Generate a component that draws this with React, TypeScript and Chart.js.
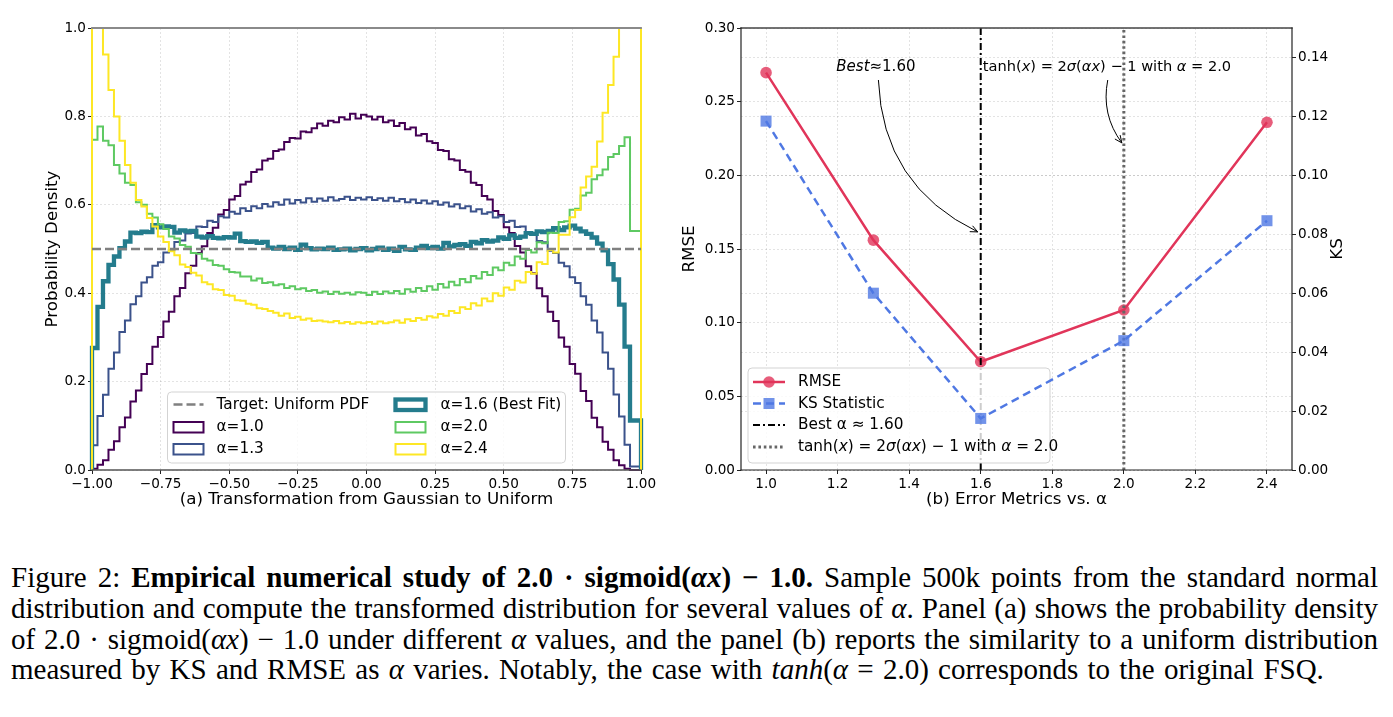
import React, { useEffect, useRef } from 'react';
import { Chart, registerables } from 'chart.js';

Chart.register(...registerables);

const FONT_FAMILY = '"DejaVu Sans", "Noto Sans", sans-serif';

// ---------------- Panel (a): histogram densities (100 bins over [-1, 1]) ----------------
const BIN_RANGE = [-1, 1];
const X_TICKS_A = [-1, -0.75, -0.5, -0.25, 0, 0.25, 0.5, 0.75, 1];
const Y_TICKS_A = [0, 0.2, 0.4, 0.6, 0.8, 1.0];
const Y_RANGE_A = [0, 1];
const TARGET_PDF = 0.5;

const HIST_ALPHA_1_0 = [
  0.000, 0.003, 0.012, 0.022, 0.046, 0.065, 0.097, 0.119, 0.155, 0.180,
  0.217, 0.240, 0.279, 0.301, 0.336, 0.358, 0.393, 0.412, 0.445, 0.462,
  0.491, 0.506, 0.536, 0.548, 0.578, 0.588, 0.612, 0.620, 0.646, 0.652,
  0.674, 0.680, 0.700, 0.704, 0.722, 0.725, 0.742, 0.751, 0.750, 0.766,
  0.764, 0.773, 0.784, 0.779, 0.790, 0.787, 0.798, 0.793, 0.806, 0.795,
  0.804, 0.800, 0.793, 0.799, 0.787, 0.791, 0.778, 0.785, 0.771, 0.775,
  0.757, 0.760, 0.744, 0.740, 0.724, 0.722, 0.703, 0.700, 0.679, 0.675,
  0.650, 0.645, 0.620, 0.612, 0.586, 0.577, 0.549, 0.536, 0.507, 0.492,
  0.461, 0.445, 0.411, 0.393, 0.358, 0.337, 0.300, 0.279, 0.240, 0.218,
  0.179, 0.156, 0.118, 0.097, 0.064, 0.046, 0.022, 0.011, 0.003, 0.000,
];
const HIST_ALPHA_1_3 = [
  0.009, 0.056, 0.122, 0.170, 0.229, 0.266, 0.312, 0.338, 0.375, 0.393,
  0.424, 0.436, 0.462, 0.470, 0.492, 0.497, 0.516, 0.519, 0.535, 0.536,
  0.551, 0.550, 0.564, 0.561, 0.574, 0.571, 0.584, 0.580, 0.592, 0.586,
  0.597, 0.592, 0.602, 0.596, 0.606, 0.600, 0.612, 0.603, 0.611, 0.605,
  0.615, 0.607, 0.614, 0.609, 0.617, 0.610, 0.613, 0.618, 0.611, 0.616,
  0.612, 0.617, 0.611, 0.615, 0.609, 0.616, 0.608, 0.613, 0.606, 0.612,
  0.604, 0.610, 0.603, 0.608, 0.600, 0.605, 0.596, 0.601, 0.592, 0.597,
  0.585, 0.590, 0.580, 0.583, 0.571, 0.574, 0.561, 0.564, 0.550, 0.551,
  0.535, 0.535, 0.518, 0.515, 0.496, 0.491, 0.469, 0.461, 0.436, 0.423,
  0.393, 0.374, 0.338, 0.311, 0.266, 0.229, 0.171, 0.121, 0.057, 0.008,
];
const HIST_ALPHA_1_6 = [
  0.106, 0.276, 0.369, 0.427, 0.464, 0.483, 0.502, 0.517, 0.537, 0.536,
  0.539, 0.538, 0.554, 0.549, 0.551, 0.550, 0.537, 0.542, 0.540, 0.541,
  0.528, 0.526, 0.529, 0.525, 0.524, 0.527, 0.526, 0.535, 0.518, 0.516,
  0.517, 0.514, 0.516, 0.503, 0.501, 0.505, 0.500, 0.503, 0.498, 0.510,
  0.502, 0.499, 0.501, 0.500, 0.503, 0.498, 0.499, 0.501, 0.497, 0.500,
  0.502, 0.497, 0.500, 0.503, 0.498, 0.501, 0.496, 0.505, 0.499, 0.498,
  0.503, 0.507, 0.502, 0.505, 0.501, 0.514, 0.506, 0.509, 0.511, 0.507,
  0.516, 0.513, 0.520, 0.517, 0.519, 0.526, 0.523, 0.531, 0.525, 0.528,
  0.536, 0.534, 0.540, 0.538, 0.541, 0.547, 0.543, 0.549, 0.553, 0.546,
  0.540, 0.534, 0.526, 0.512, 0.497, 0.466, 0.431, 0.374, 0.279, 0.112,
];
const HIST_ALPHA_2_0 = [
  0.540, 0.747, 0.777, 0.745, 0.735, 0.690, 0.671, 0.650, 0.645, 0.606,
  0.600, 0.580, 0.571, 0.556, 0.545, 0.528, 0.524, 0.509, 0.505, 0.491,
  0.489, 0.478, 0.474, 0.464, 0.462, 0.454, 0.448, 0.447, 0.438, 0.438,
  0.429, 0.433, 0.423, 0.425, 0.418, 0.420, 0.412, 0.416, 0.409, 0.411,
  0.405, 0.407, 0.401, 0.404, 0.398, 0.403, 0.399, 0.401, 0.397, 0.402,
  0.401, 0.396, 0.403, 0.398, 0.404, 0.400, 0.405, 0.399, 0.409, 0.403,
  0.412, 0.405, 0.416, 0.408, 0.421, 0.413, 0.426, 0.418, 0.432, 0.425,
  0.439, 0.433, 0.448, 0.441, 0.458, 0.452, 0.469, 0.463, 0.483, 0.478,
  0.498, 0.492, 0.515, 0.513, 0.537, 0.536, 0.561, 0.563, 0.589, 0.591,
  0.621, 0.627, 0.658, 0.667, 0.680, 0.708, 0.715, 0.733, 0.753, 0.541,
];
const HIST_ALPHA_2_4 = [
  1.470, 1.228, 1.061, 0.940, 0.860, 0.800, 0.745, 0.690, 0.650, 0.611,
  0.596, 0.570, 0.551, 0.528, 0.516, 0.495, 0.486, 0.465, 0.459, 0.446,
  0.440, 0.425, 0.420, 0.409, 0.407, 0.396, 0.394, 0.384, 0.383, 0.376,
  0.374, 0.366, 0.364, 0.360, 0.356, 0.349, 0.354, 0.344, 0.347, 0.340,
  0.343, 0.337, 0.338, 0.336, 0.334, 0.337, 0.332, 0.335, 0.331, 0.334,
  0.332, 0.335, 0.331, 0.336, 0.332, 0.334, 0.338, 0.333, 0.341, 0.337,
  0.344, 0.340, 0.348, 0.345, 0.353, 0.349, 0.360, 0.355, 0.368, 0.364,
  0.377, 0.372, 0.388, 0.382, 0.400, 0.394, 0.413, 0.408, 0.428, 0.424,
  0.448, 0.444, 0.470, 0.466, 0.498, 0.492, 0.532, 0.532, 0.572, 0.588,
  0.639, 0.664, 0.686, 0.743, 0.808, 0.871, 0.935, 1.070, 1.236, 1.461,
];

const SERIES_A = [
  { label: 'α=1.0', values: HIST_ALPHA_1_0, color: '#440154', width: 2 },
  { label: 'α=1.3', values: HIST_ALPHA_1_3, color: '#3b528b', width: 2 },
  { label: 'α=1.6 (Best Fit)', values: HIST_ALPHA_1_6, color: '#247c8d', width: 4.3 },
  { label: 'α=2.0', values: HIST_ALPHA_2_0, color: '#5ec962', width: 2 },
  { label: 'α=2.4', values: HIST_ALPHA_2_4, color: '#fde725', width: 2 },
];
const TARGET_LABEL = 'Target: Uniform PDF';
const TARGET_COLOR = '#808080';

// ---------------- Panel (b): error metrics ----------------
const ALPHAS = [1.0, 1.3, 1.6, 2.0, 2.4];
const RMSE = [0.2697, 0.156, 0.0735, 0.1086, 0.236];
const KS = [0.1184, 0.060, 0.0175, 0.0439, 0.0846];
const BEST_ALPHA = 1.6;
const TANH_ALPHA = 2.0;
const X_RANGE_B = [0.93, 2.47];
const X_TICKS_B = [1.0, 1.2, 1.4, 1.6, 1.8, 2.0, 2.2, 2.4];
const RMSE_RANGE = [0, 0.3];
const RMSE_TICKS = [0, 0.05, 0.1, 0.15, 0.2, 0.25, 0.3];
const KS_RANGE = [0, 0.15];
const KS_TICKS = [0, 0.02, 0.04, 0.06, 0.08, 0.1, 0.12, 0.14];

// annotation anchors (data coordinates: alpha, RMSE)
const BEST_TEXT_AT = [1.307, 0.2736];
const BEST_ARROW_FROM = [1.314, 0.2647];
const BEST_ARROW_TO = [1.6, 0.1616];
const TANH_TEXT_AT = [1.606, 0.2736];
const TANH_ARROW_FROM = [1.955, 0.2647];
const TANH_ARROW_TO = [2.0, 0.222];

const RED = '#e1355a';
const RED_A = 'rgba(225,53,90,0.8)';
const BLUE = '#4f78e3';
const BLUE_A = 'rgba(79,120,227,0.8)';

type Seg = [string, boolean];
const TANH_SEGS: Seg[] = [
  ['tanh(', false], ['x', true], [') = 2', false], ['σ', true], ['(', false], ['αx', true],
  [') − 1 with ', false], ['α', true], [' = 2.0', false],
];
const BEST_SEGS: Seg[] = [['Best', true], ['≈1.60', false]];

function fmtTick(v: number, d: number) {
  const s = Math.abs(v).toFixed(d);
  return v < -1e-9 ? '\u2212' + s : s;
}

function stepPoints(vals: number[]) {
  const n = vals.length;
  const w = (BIN_RANGE[1] - BIN_RANGE[0]) / n;
  const pts: { x: number; y: number }[] = [{ x: BIN_RANGE[0], y: 0 }];
  vals.forEach((v, i) => pts.push({ x: BIN_RANGE[0] + i * w, y: v }));
  pts.push({ x: BIN_RANGE[1], y: vals[n - 1] });
  pts.push({ x: BIN_RANGE[1], y: 0 });
  return pts;
}

function fixedTicks(arr: number[]) {
  return (s: any) => {
    s.ticks = arr.map((v) => ({ value: v }));
  };
}

function rrect(ctx: CanvasRenderingContext2D, x: number, y: number, w: number, h: number, r: number) {
  ctx.beginPath();
  ctx.moveTo(x + r, y);
  ctx.lineTo(x + w - r, y);
  ctx.quadraticCurveTo(x + w, y, x + w, y + r);
  ctx.lineTo(x + w, y + h - r);
  ctx.quadraticCurveTo(x + w, y + h, x + w - r, y + h);
  ctx.lineTo(x + r, y + h);
  ctx.quadraticCurveTo(x, y + h, x, y + h - r);
  ctx.lineTo(x, y + r);
  ctx.quadraticCurveTo(x, y, x + r, y);
  ctx.closePath();
}

function richWidth(ctx: CanvasRenderingContext2D, segs: Seg[], size: number) {
  let w = 0;
  for (const [t, it] of segs) {
    ctx.font = `${it ? 'italic ' : ''}${size}px ${FONT_FAMILY}`;
    w += ctx.measureText(t).width;
  }
  return w;
}

function drawRich(ctx: CanvasRenderingContext2D, segs: Seg[], x: number, y: number, size: number) {
  let cx = x;
  ctx.textAlign = 'left';
  ctx.textBaseline = 'middle';
  for (const [t, it] of segs) {
    ctx.font = `${it ? 'italic ' : ''}${size}px ${FONT_FAMILY}`;
    ctx.fillText(t, cx, y);
    cx += ctx.measureText(t).width;
  }
}

function drawCurvedArrow(ctx: CanvasRenderingContext2D, sx: number, sy: number, ex: number, ey: number, rad: number) {
  const mx = (sx + ex) / 2, my = (sy + ey) / 2;
  const dx = ex - sx, dy = ey - sy;
  const cx = mx - rad * dy, cy = my + rad * dx;
  ctx.save();
  ctx.strokeStyle = '#000';
  ctx.lineWidth = 1;
  ctx.beginPath();
  ctx.moveTo(sx, sy);
  ctx.quadraticCurveTo(cx, cy, ex, ey);
  ctx.stroke();
  const ang = Math.atan2(ey - cy, ex - cx);
  const hl = 8, hw = 0.42;
  ctx.beginPath();
  ctx.moveTo(ex - hl * Math.cos(ang - hw), ey - hl * Math.sin(ang - hw));
  ctx.lineTo(ex, ey);
  ctx.lineTo(ex - hl * Math.cos(ang + hw), ey - hl * Math.sin(ang + hw));
  ctx.stroke();
  ctx.restore();
}

function frameLine(ctx: CanvasRenderingContext2D, x1: number, y1: number, x2: number, y2: number, color: string, w: number) {
  ctx.save();
  ctx.strokeStyle = color;
  ctx.lineWidth = w;
  ctx.lineCap = 'square';
  ctx.beginPath();
  ctx.moveTo(x1, y1);
  ctx.lineTo(x2, y2);
  ctx.stroke();
  ctx.restore();
}

const tickFont = { family: FONT_FAMILY, size: 13.6 };
const titleFont = { family: FONT_FAMILY, size: 16.7 };
const LEGEND_SIZE = 15.3;
const gridOpts = { color: 'rgba(0,0,0,0.14)', lineWidth: 0.8, drawTicks: true, tickLength: 4, tickColor: '#222', tickWidth: 1 };

function buildConfigA(): any {
  const datasets: any[] = [
    {
      label: TARGET_LABEL,
      data: [{ x: BIN_RANGE[0], y: TARGET_PDF }, { x: BIN_RANGE[1], y: TARGET_PDF }],
      borderColor: TARGET_COLOR,
      borderWidth: 2.5,
      borderDash: [9, 4],
      pointRadius: 0,
      order: 0,
    },
    ...SERIES_A.map((s, i) => ({
      label: s.label,
      data: stepPoints(s.values),
      borderColor: s.color,
      borderWidth: s.width,
      stepped: 'after',
      pointRadius: 0,
      borderJoinStyle: 'miter',
      order: SERIES_A.length - i,
      clip: { left: 4, right: 4, top: 0, bottom: 4 },
    })),
  ];

  const framePlugin = {
    id: 'frameA',
    afterDatasetsDraw(chart: any) {
      const { ctx, chartArea: a } = chart;
      frameLine(ctx, a.left, a.top, a.right, a.top, '#8a8a8a', 1.8);
      frameLine(ctx, a.left, a.bottom, a.right, a.bottom, '#555', 1.3);
    },
  };

  const legendPlugin = {
    id: 'legendA',
    afterDatasetsDraw(chart: any) {
      const { ctx, chartArea: a } = chart;
      const w = 398, h = 71;
      const x0 = (a.left + a.right) / 2 - w / 2;
      const y0 = a.bottom - 7 - h;
      ctx.save();
      rrect(ctx, x0, y0, w, h, 4);
      ctx.fillStyle = 'rgba(255,255,255,0.8)';
      ctx.fill();
      ctx.strokeStyle = '#d3d3d3';
      ctx.lineWidth = 1;
      ctx.stroke();
      const rows = [12.5, 35, 57];
      const cols = [{ hx: 6, tx: 49 }, { hx: 228, tx: 273 }];
      const entries: any[] = [
        { kind: 'line', label: TARGET_LABEL },
        SERIES_A[0], SERIES_A[1], SERIES_A[2], SERIES_A[3], SERIES_A[4],
      ];
      entries.forEach((e, k) => {
        const col = cols[Math.floor(k / 3)];
        const cy = y0 + rows[k % 3];
        const hx = x0 + col.hx;
        if (e.kind === 'line') {
          ctx.save();
          ctx.strokeStyle = TARGET_COLOR;
          ctx.lineWidth = 2.5;
          ctx.setLineDash([9, 4]);
          ctx.beginPath();
          ctx.moveTo(hx, cy);
          ctx.lineTo(hx + 30, cy);
          ctx.stroke();
          ctx.restore();
        } else {
          ctx.save();
          ctx.strokeStyle = e.color;
          ctx.lineWidth = e.width;
          ctx.lineJoin = 'miter';
          ctx.strokeRect(hx, cy - 5, 30, 10.5);
          ctx.restore();
        }
        ctx.fillStyle = '#000';
        ctx.font = `${LEGEND_SIZE}px ${FONT_FAMILY}`;
        ctx.textAlign = 'left';
        ctx.textBaseline = 'middle';
        ctx.fillText(e.label, x0 + col.tx, cy + 0.5);
      });
      ctx.restore();
    },
  };

  return {
    type: 'line',
    data: { datasets },
    plugins: [framePlugin, legendPlugin],
    options: {
      animation: false,
      responsive: false,
      maintainAspectRatio: false,
      events: [],
      layout: { padding: { left: 39, right: 29, top: 28, bottom: 6 } },
      plugins: { legend: { display: false }, tooltip: { enabled: false } },
      elements: { line: { tension: 0 } },
      scales: {
        x: {
          type: 'linear',
          min: BIN_RANGE[0],
          max: BIN_RANGE[1],
          afterBuildTicks: fixedTicks(X_TICKS_A),
          afterFit: (s: any) => { s.height = 44; },
          ticks: { autoSkip: false, maxRotation: 0, padding: 2, color: '#000', font: tickFont, callback: (v: any) => fmtTick(Number(v), 2) },
          grid: gridOpts,
          border: { display: false, dash: [2, 2] },
          title: { display: true, text: '(a) Transformation from Gaussian to Uniform', color: '#000', font: titleFont, padding: { top: 4, bottom: 4 } },
        },
        y: {
          type: 'linear',
          min: Y_RANGE_A[0],
          max: Y_RANGE_A[1],
          afterBuildTicks: fixedTicks(Y_TICKS_A),
          afterFit: (s: any) => { s.width = 53; },
          ticks: { autoSkip: false, padding: 2, color: '#000', font: tickFont, callback: (v: any) => fmtTick(Number(v), 1) },
          grid: gridOpts,
          border: { display: false, dash: [2, 2] },
          title: { display: true, text: 'Probability Density', color: '#000', font: titleFont, padding: { top: 4, bottom: 4 } },
        },
      },
    },
  };
}

function drawLegendB(chart: any) {
  const { ctx, chartArea: a } = chart;
  const w = 302, h = 95;
  const x0 = a.left + 7;
  const y0 = a.bottom - 7 - h;
  ctx.save();
  rrect(ctx, x0, y0, w, h, 4);
  ctx.fillStyle = 'rgba(255,255,255,0.8)';
  ctx.fill();
  ctx.strokeStyle = '#d3d3d3';
  ctx.lineWidth = 1;
  ctx.stroke();
  const rows = [14, 35.5, 57, 79];
  const hx = x0 + 5, hl = 32, tx = x0 + 50;
  const line = (cy: number, color: string, width: number, dash: number[]) => {
    ctx.save();
    ctx.strokeStyle = color;
    ctx.lineWidth = width;
    ctx.setLineDash(dash);
    ctx.beginPath();
    ctx.moveTo(hx, cy);
    ctx.lineTo(hx + hl, cy);
    ctx.stroke();
    ctx.restore();
  };
  let cy = y0 + rows[0];
  line(cy, RED, 2.5, []);
  ctx.fillStyle = RED_A;
  ctx.beginPath();
  ctx.arc(hx + hl / 2, cy, 5.8, 0, Math.PI * 2);
  ctx.fill();
  cy = y0 + rows[1];
  line(cy, BLUE, 2.5, [8, 5]);
  ctx.fillStyle = BLUE_A;
  ctx.fillRect(hx + hl / 2 - 5.5, cy - 5.5, 11, 11);
  cy = y0 + rows[2];
  line(cy, '#000', 2, [7, 3, 2, 3]);
  cy = y0 + rows[3];
  line(cy, '#666', 3, [2.6, 2.8]);

  ctx.fillStyle = '#000';
  ctx.font = `${LEGEND_SIZE}px ${FONT_FAMILY}`;
  ctx.textAlign = 'left';
  ctx.textBaseline = 'middle';
  ctx.fillText('RMSE', tx, y0 + rows[0] + 0.5);
  ctx.fillText('KS Statistic', tx, y0 + rows[1] + 0.5);
  ctx.fillText('Best α ≈ 1.60', tx, y0 + rows[2] + 0.5);
  drawRich(ctx, TANH_SEGS, tx, y0 + rows[3] + 0.5, LEGEND_SIZE);
  ctx.restore();
}

function buildConfigB(): any {
  const datasets: any[] = [
    {
      label: 'Best',
      data: [{ x: BEST_ALPHA, y: RMSE_RANGE[0] }, { x: BEST_ALPHA, y: RMSE_RANGE[1] }],
      yAxisID: 'y',
      borderColor: '#000',
      borderWidth: 2,
      borderDash: [7, 3, 2, 3],
      pointRadius: 0,
      order: 2,
    },
    {
      label: 'tanh',
      data: [{ x: TANH_ALPHA, y: RMSE_RANGE[0] }, { x: TANH_ALPHA, y: RMSE_RANGE[1] }],
      yAxisID: 'y',
      borderColor: '#666',
      borderWidth: 3,
      borderDash: [2.6, 2.8],
      pointRadius: 0,
      order: 2,
    },
    {
      label: 'KS Statistic',
      data: ALPHAS.map((a, i) => ({ x: a, y: KS[i] })),
      yAxisID: 'y1',
      borderColor: BLUE,
      borderWidth: 2.5,
      borderDash: [8, 5],
      pointStyle: 'rect',
      pointRadius: 7.8,
      pointBackgroundColor: BLUE_A,
      pointBorderWidth: 0,
      order: 1,
    },
    {
      label: 'RMSE',
      data: ALPHAS.map((a, i) => ({ x: a, y: RMSE[i] })),
      yAxisID: 'y',
      borderColor: RED,
      borderWidth: 2.5,
      pointStyle: 'circle',
      pointRadius: 5.8,
      pointBackgroundColor: RED_A,
      pointBorderWidth: 0,
      order: 3,
    },
  ];

  // legend sits above RMSE and the reference lines, but below the KS series (twin axis)
  const legendPlugin = {
    id: 'legendB',
    afterDatasetDraw(chart: any, args: any) {
      if (args.index === 0) drawLegendB(chart);
    },
  };

  const framePlugin = {
    id: 'frameB',
    afterDatasetsDraw(chart: any) {
      const { ctx, chartArea: a } = chart;
      const c = '#222';
      frameLine(ctx, a.left, a.top, a.right, a.top, '#444', 1.4);
      frameLine(ctx, a.left, a.bottom, a.right, a.bottom, c, 1.2);
      frameLine(ctx, a.left, a.top, a.left, a.bottom, c, 1.2);
      frameLine(ctx, a.right, a.top, a.right, a.bottom, c, 1.2);
    },
  };

  const annotPlugin = {
    id: 'annotB',
    afterDatasetsDraw(chart: any) {
      const { ctx, scales } = chart;
      const x = scales.x, y = scales.y;
      const px = (p: number[]) => [x.getPixelForValue(p[0]), y.getPixelForValue(p[1])];
      ctx.save();
      ctx.fillStyle = '#000';
      const w1 = richWidth(ctx, BEST_SEGS, 15);
      const t1 = px(BEST_TEXT_AT);
      drawRich(ctx, BEST_SEGS, t1[0] - w1 / 2, t1[1], 15);
      const t2 = px(TANH_TEXT_AT);
      drawRich(ctx, TANH_SEGS, t2[0], t2[1], 14.6);
      const a1 = px(BEST_ARROW_FROM), b1 = px(BEST_ARROW_TO);
      drawCurvedArrow(ctx, a1[0], a1[1], b1[0] - 3, b1[1], 0.3);
      const a2 = px(TANH_ARROW_FROM), b2 = px(TANH_ARROW_TO);
      drawCurvedArrow(ctx, a2[0], a2[1], b2[0] - 2, b2[1], 0.22);
      // right axis title (reads bottom-to-top like the left one)
      const ks = scales.y1;
      ctx.save();
      ctx.translate(ks.right - 14, (chart.chartArea.top + chart.chartArea.bottom) / 2);
      ctx.rotate(-Math.PI / 2);
      ctx.font = `${titleFont.size}px ${FONT_FAMILY}`;
      ctx.textAlign = 'center';
      ctx.textBaseline = 'middle';
      ctx.fillText('KS', 0, 0);
      ctx.restore();
      ctx.restore();
    },
  };

  return {
    type: 'line',
    data: { datasets },
    plugins: [legendPlugin, framePlugin, annotPlugin],
    options: {
      animation: false,
      responsive: false,
      maintainAspectRatio: false,
      events: [],
      layout: { padding: { left: 6, right: 41, top: 28, bottom: 6 } },
      plugins: { legend: { display: false }, tooltip: { enabled: false } },
      elements: { line: { tension: 0 } },
      scales: {
        x: {
          type: 'linear',
          min: X_RANGE_B[0],
          max: X_RANGE_B[1],
          afterBuildTicks: fixedTicks(X_TICKS_B),
          afterFit: (s: any) => { s.height = 44; },
          ticks: { autoSkip: false, maxRotation: 0, padding: 2, color: '#000', font: tickFont, callback: (v: any) => fmtTick(Number(v), 1) },
          grid: gridOpts,
          border: { display: false, dash: [2, 2] },
          title: { display: true, text: '(b) Error Metrics vs. α', color: '#000', font: titleFont, padding: { top: 4, bottom: 4 } },
        },
        y: {
          type: 'linear',
          position: 'left',
          min: RMSE_RANGE[0],
          max: RMSE_RANGE[1],
          afterBuildTicks: fixedTicks(RMSE_TICKS),
          afterFit: (s: any) => { s.width = 65; },
          ticks: { autoSkip: false, padding: 2, color: '#000', font: tickFont, callback: (v: any) => fmtTick(Number(v), 2) },
          grid: gridOpts,
          border: { display: false, dash: [2, 2] },
          title: { display: true, text: 'RMSE', color: '#000', font: titleFont, padding: { top: 4, bottom: 4 } },
        },
        y1: {
          type: 'linear',
          position: 'right',
          min: KS_RANGE[0],
          max: KS_RANGE[1],
          afterBuildTicks: fixedTicks(KS_TICKS),
          afterFit: (s: any) => { s.width = 60; },
          ticks: { autoSkip: false, padding: 2, color: '#000', font: tickFont, callback: (v: any) => fmtTick(Number(v), 2) },
          grid: gridOpts,
          border: { display: false, dash: [2, 2] },
        },
      },
    },
  };
}

function Caption() {
  const base: React.CSSProperties = {
    position: 'absolute',
    left: 11,
    top: 562,
    width: 1367,
    fontFamily: '"Liberation Serif", "DejaVu Serif", serif',
    fontSize: 29,
    lineHeight: '30.8px',
    color: '#000',
  };
  const j: React.CSSProperties = { textAlign: 'justify', textAlignLast: 'justify', wordSpacing: '-4px' } as any;
  return (
    <div style={base}>
      <div style={j}>
        Figure 2: <b>Empirical numerical study of 2.0 · sigmoid(<i>αx</i>) − 1.0.</b> Sample 500k points from the standard normal
      </div>
      <div style={j}>
        distribution and compute the transformed distribution for several values of <i>α</i>. Panel (a) shows the probability density
      </div>
      <div style={j}>
        of 2.0 · sigmoid(<i>αx</i>) − 1.0 under different <i>α</i> values, and the panel (b) reports the similarity to a uniform distribution
      </div>
      <div style={{ wordSpacing: '2px' }}>
        measured by KS and RMSE as <i>α</i> varies. Notably, the case with <i>tanh</i>(<i>α</i> = 2.0) corresponds to the original FSQ.
      </div>
    </div>
  );
}

export default function App() {
  const refA = useRef<HTMLCanvasElement>(null);
  const refB = useRef<HTMLCanvasElement>(null);
  useEffect(() => {
    const a = new Chart(refA.current as HTMLCanvasElement, buildConfigA());
    const b = new Chart(refB.current as HTMLCanvasElement, buildConfigB());
    return () => {
      a.destroy();
      b.destroy();
    };
  }, []);
  return (
    <div style={{ position: 'absolute', left: 0, top: 0, width: 1393, height: 717, background: '#fff', overflow: 'hidden' }}>
      <canvas ref={refA} width={670} height={520} style={{ position: 'absolute', left: 0, top: 0, width: 670, height: 520 }} />
      <canvas ref={refB} width={723} height={520} style={{ position: 'absolute', left: 670, top: 0, width: 723, height: 520 }} />
      <Caption />
    </div>
  );
}
